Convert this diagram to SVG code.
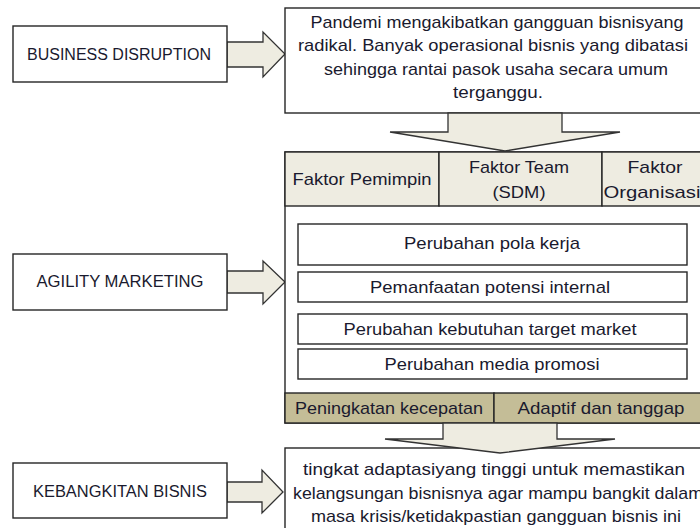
<svg xmlns="http://www.w3.org/2000/svg" width="700" height="528" viewBox="0 0 700 528">
<style>
.box{fill:#ffffff;stroke:#262626;stroke-width:1.4}
.hdr{fill:#EEECE1;stroke:#262626;stroke-width:1.4}
.tan{fill:#C4BD97;stroke:#262626;stroke-width:1.4}
.arr{fill:#EEECE1;stroke:#333333;stroke-width:1.3;stroke-linejoin:miter}
text{font-family:"Liberation Sans","DejaVu Sans",sans-serif;font-size:16px;fill:#1a1a2e;text-anchor:middle}
.lbl{font-size:16px}
.big{font-size:17px}
</style>
<rect width="700" height="528" fill="#ffffff"/>

<g id="connectors">
  <polygon class="arr" points="227,42 263,42 263,32 285,54 263,77 263,67 227,67"/>
  <polygon class="arr" points="227,271 263,271 263,261 285,282 263,304 263,293 227,293"/>
  <polygon class="arr" points="227,482 262,482 262,470 283,492 262,513 262,502 227,502"/>
</g>

<g id="business-disruption">
  <rect class="box" x="13" y="26" width="214" height="56"/>
  <text class="lbl" x="119" y="60" textLength="184" lengthAdjust="spacingAndGlyphs">BUSINESS DISRUPTION</text>
</g>

<g id="agility-marketing">
  <rect class="box" x="13" y="254" width="214" height="56"/>
  <text class="lbl" x="120" y="287" textLength="167" lengthAdjust="spacingAndGlyphs">AGILITY MARKETING</text>
</g>

<g id="kebangkitan-bisnis">
  <rect class="box" x="13" y="463" width="214" height="55"/>
  <text class="lbl" x="120" y="497" textLength="174" lengthAdjust="spacingAndGlyphs">KEBANGKITAN BISNIS</text>
</g>

<g id="pandemi">
  <rect class="box" x="285" y="8" width="425" height="105"/>
  <text class="big" x="497" y="28" textLength="373" lengthAdjust="spacingAndGlyphs">Pandemi mengakibatkan gangguan bisnisyang</text>
  <text class="big" x="493" y="51" textLength="390" lengthAdjust="spacingAndGlyphs">radikal. Banyak operasional bisnis yang dibatasi</text>
  <text class="big" x="496" y="75" textLength="344" lengthAdjust="spacingAndGlyphs">sehingga rantai pasok usaha secara umum</text>
  <text class="big" x="498" y="98" textLength="90" lengthAdjust="spacingAndGlyphs">terganggu.</text>
</g>

<g id="agility-panel">
  <rect class="box" x="285" y="152" width="425" height="271"/>
  <rect class="hdr" x="285" y="152" width="154" height="54"/>
  <rect class="hdr" x="439" y="152" width="163" height="54"/>
  <rect class="hdr" x="602" y="152" width="108" height="54"/>
  <text class="big" x="362" y="185" textLength="139" lengthAdjust="spacingAndGlyphs">Faktor Pemimpin</text>
  <text class="big" x="519" y="173" textLength="100" lengthAdjust="spacingAndGlyphs">Faktor Team</text>
  <text class="big" x="519" y="198" textLength="53" lengthAdjust="spacingAndGlyphs">(SDM)</text>
  <text class="big" x="655" y="173" textLength="55" lengthAdjust="spacingAndGlyphs">Faktor</text>
  <text class="big" x="652" y="198" textLength="97" lengthAdjust="spacingAndGlyphs">Organisasi</text>

  <rect class="box" x="298" y="224" width="389" height="41"/>
  <text class="big" x="492" y="249" textLength="176" lengthAdjust="spacingAndGlyphs">Perubahan pola kerja</text>
  <rect class="box" x="298" y="272" width="389" height="30"/>
  <text class="big" x="490" y="293" textLength="240" lengthAdjust="spacingAndGlyphs">Pemanfaatan potensi internal</text>
  <rect class="box" x="298" y="314" width="389" height="30"/>
  <text class="big" x="490" y="335" textLength="293" lengthAdjust="spacingAndGlyphs">Perubahan kebutuhan target market</text>
  <rect class="box" x="298" y="349" width="389" height="30"/>
  <text class="big" x="492" y="370" textLength="215" lengthAdjust="spacingAndGlyphs">Perubahan media promosi</text>

  <rect class="tan" x="285" y="393" width="209" height="30"/>
  <rect class="tan" x="494" y="393" width="216" height="30"/>
  <text class="big" x="389" y="414" textLength="188" lengthAdjust="spacingAndGlyphs">Peningkatan kecepatan</text>
  <text class="big" x="601" y="414" textLength="167" lengthAdjust="spacingAndGlyphs">Adaptif dan tanggap</text>
</g>

<g id="kebangkitan-desc">
  <rect class="box" x="285" y="448" width="425" height="90"/>
  <text class="big" x="494" y="475" textLength="382" lengthAdjust="spacingAndGlyphs">tingkat adaptasiyang tinggi untuk memastikan</text>
  <text class="big" x="498" y="499" textLength="410" lengthAdjust="spacingAndGlyphs">kelangsungan bisnisnya agar mampu bangkit dalam</text>
  <text class="big" x="496" y="522" textLength="370" lengthAdjust="spacingAndGlyphs">masa krisis/ketidakpastian gangguan bisnis ini</text>
</g>

<g id="down-arrows">
  <polygon class="arr" points="448,113 562,113 562,132 620,132 505,151 390,132 448,132"/>
  <polygon class="arr" points="443,423 557,423 557,439 615,439 500,453 385,439 443,439"/>
</g>
</svg>
